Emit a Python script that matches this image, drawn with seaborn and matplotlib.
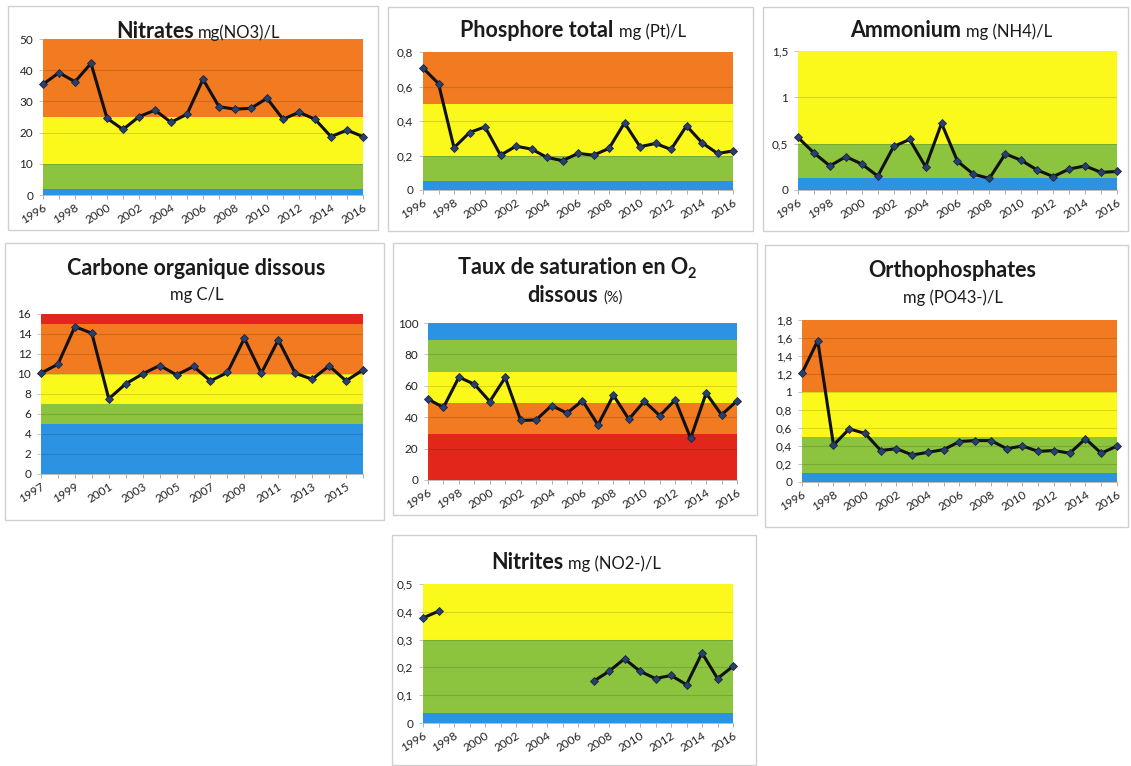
import numpy as np
import pandas as pd
import matplotlib
matplotlib.use("Agg")
import matplotlib.pyplot as plt
import seaborn as sns
from matplotlib.patches import Rectangle
from matplotlib.ticker import FixedLocator

sns.set_theme(style="white")
plt.rcParams["font.family"] = ["Lato", "DejaVu Sans"]

# ---------------- data ----------------
years = list(range(1996, 2017))
years_cod = list(range(1997, 2017))
nan = np.nan

nitrates = [35.5, 39.2, 36.3, 42.2, 24.6, 21.0, 25.1, 27.2, 23.3, 25.9, 37.1,
            28.3, 27.5, 27.8, 31.0, 24.3, 26.5, 24.3, 18.7, 20.8, 18.7]
phosphore = [0.707, 0.617, 0.245, 0.333, 0.366, 0.202, 0.254, 0.237, 0.189, 0.170, 0.212,
             0.202, 0.241, 0.389, 0.251, 0.270, 0.235, 0.372, 0.274, 0.212, 0.226]
ammonium = [0.567, 0.40, 0.26, 0.36, 0.28, 0.15, 0.47, 0.545, 0.25, 0.72, 0.31,
            0.17, 0.125, 0.39, 0.32, 0.215, 0.145, 0.226, 0.26, 0.19, 0.20]
cod = [10.08, 10.98, 14.74, 14.07, 7.52, 9.02, 10.01, 10.85, 9.91, 10.75,
       9.31, 10.15, 13.57, 10.08, 13.41, 10.08, 9.48, 10.81, 9.31, 10.41]
o2 = [51.5, 46.2, 65.5, 61.0, 50.0, 65.3, 37.9, 38.3, 47.4, 42.6, 50.6,
      35.1, 54.0, 38.7, 50.2, 41.0, 51.0, 26.6, 55.3, 41.5, 50.4]
ortho = [1.21, 1.57, 0.41, 0.59, 0.54, 0.35, 0.37, 0.30, 0.33, 0.36, 0.45,
         0.46, 0.46, 0.37, 0.40, 0.34, 0.35, 0.32, 0.48, 0.32, 0.40]
nitrites = [0.378, 0.402, nan, nan, nan, nan, nan, nan, nan, nan, nan,
            0.15, 0.186, 0.231, 0.186, 0.16, 0.171, 0.138, 0.252, 0.16, 0.204]

# class thresholds (band edges) and colours
BLUE, GREEN, YELLOW, ORANGE, RED = "#2C93E3", "#8CC43F", "#FBF81C", "#F27A20", "#E2261C"
nitrates_bands = [0, 2, 10, 25, 50]
nitrates_cols = [BLUE, GREEN, YELLOW, ORANGE]
phosphore_bands = [0, 0.05, 0.2, 0.5, 0.8]
phosphore_cols = [BLUE, GREEN, YELLOW, ORANGE]
ammonium_bands = [0, 0.13, 0.5, 1.5]
ammonium_cols = [BLUE, GREEN, YELLOW]
cod_bands = [0, 5, 7, 10, 15, 16]
cod_cols = [BLUE, GREEN, YELLOW, ORANGE, RED]
o2_bands = [0, 29, 49, 69, 89, 100]
o2_cols = [RED, ORANGE, YELLOW, GREEN, BLUE]
ortho_bands = [0, 0.1, 0.5, 1.0, 1.8]
ortho_cols = [BLUE, GREEN, YELLOW, ORANGE]
nitrites_bands = [0, 0.035, 0.3, 0.5]
nitrites_cols = [BLUE, GREEN, YELLOW]

nitrates_yticks = [0, 10, 20, 30, 40, 50]
phosphore_yticks = [0, 0.2, 0.4, 0.6, 0.8]
ammonium_yticks = [0, 0.5, 1, 1.5]
cod_yticks = [0, 2, 4, 6, 8, 10, 12, 14, 16]
o2_yticks = [0, 20, 40, 60, 80, 100]
ortho_yticks = [0, 0.2, 0.4, 0.6, 0.8, 1, 1.2, 1.4, 1.6, 1.8]
nitrites_yticks = [0, 0.1, 0.2, 0.3, 0.4, 0.5]

xticks_even = list(range(1996, 2017, 2))
xticks_odd = list(range(1997, 2016, 2))

# ---------------- layout ----------------
W, H = 1131, 766
fig = plt.figure(figsize=(W / 100, H / 100), dpi=100)
fig.patch.set_facecolor("white")
renderer = fig.canvas.get_renderer()

TITLE_BOLD = 15.5
TITLE_SUB = 12
TICK_SIZE = 8.5


def px_axes(l, t, r, b):
    return fig.add_axes([l / W, 1 - b / H, (r - l) / W, (b - t) / H])


def frame(l, t, r, b):
    fig.patches.append(Rectangle((l / W, 1 - b / H), (r - l) / W, (b - t) / H,
                                 transform=fig.transFigure, fill=False,
                                 edgecolor="#D0D0D0", lw=1.0, zorder=0))


def title_line(cx, ybase, parts, gap=5):
    objs = []
    total = 0
    for i, (txt, size, weight, dy) in enumerate(parts):
        t = fig.text(0, 1 - (ybase + dy) / H, txt, fontsize=size, fontweight=weight,
                     color="#1b1b1b", va="baseline", ha="left")
        w = t.get_window_extent(renderer).width
        g = 0 if (i == len(parts) - 1) else (0 if parts[i + 1][3] != 0 else gap)
        objs.append((t, w, g))
        total += w + g
    x = cx - total / 2
    for t, w, g in objs:
        t.set_x(x / W)
        x += w + g


def fmt(v):
    s = f"{v:g}"
    return s.replace(".", ",")


def panel(ax_px, xs, ys, bands, cols, yticks, xticks):
    ax = px_axes(*ax_px)
    for lo, hi, c in zip(bands[:-1], bands[1:], cols):
        ax.axhspan(lo, hi, color=c, lw=0, zorder=0)
    for yt in yticks[1:-1]:
        ax.axhline(yt, color="black", alpha=0.13, lw=0.8, zorder=1)
    df = pd.DataFrame({"year": xs, "value": ys})
    df["seg"] = df["value"].isna().cumsum()
    df = df.dropna()
    sns.lineplot(data=df, x="year", y="value", units="seg", estimator=None,
                 color="#111111", lw=2.2, marker="D", markersize=4.5,
                 markerfacecolor="#27406E", markeredgecolor="#1a2440",
                 markeredgewidth=0.6, ax=ax, zorder=3, clip_on=False, legend=False)
    ax.set_xlim(xs[0], xs[-1])
    ax.set_ylim(bands[0], bands[-1])
    ax.set_xlabel("")
    ax.set_ylabel("")
    ax.yaxis.set_major_locator(FixedLocator(yticks))
    ax.set_yticklabels([fmt(v) for v in yticks])
    ax.set_xticks(xticks)
    ax.set_xticklabels([str(v) for v in xticks], rotation=32, ha="right",
                       rotation_mode="anchor")
    ax.set_xticks(xs, minor=True)
    ax.tick_params(axis="y", length=3, width=0.6, color="#B8B8B8", left=True,
                   pad=4, labelsize=TICK_SIZE, labelcolor="#222222")
    ax.tick_params(axis="x", which="both", length=3, width=0.6, color="#A0A0A0",
                   direction="out", pad=2, labelsize=TICK_SIZE, labelcolor="#222222", bottom=True)
    for s in ["top", "right", "left"]:
        ax.spines[s].set_visible(False)
    ax.spines["bottom"].set_color("#B0B0B0")
    ax.spines["bottom"].set_linewidth(0.6)
    ax.set_facecolor("white")
    return ax


# frames
frame(8, 6, 378, 230)
frame(388, 7, 753, 231)
frame(763, 7, 1128, 231)
frame(5, 243, 384, 520)
frame(393, 243, 757, 515)
frame(765, 245, 1128, 527)
frame(392, 535, 756, 765)

panel((43, 39, 363, 195), years, nitrates, nitrates_bands, nitrates_cols, nitrates_yticks, xticks_even)
panel((423, 52, 733, 190), years, phosphore, phosphore_bands, phosphore_cols, phosphore_yticks, xticks_even)
panel((798, 51, 1117, 190), years, ammonium, ammonium_bands, ammonium_cols, ammonium_yticks, xticks_even)
panel((41, 314, 363, 474), years_cod, cod, cod_bands, cod_cols, cod_yticks, xticks_odd)
panel((428, 323, 737, 480), years, o2, o2_bands, o2_cols, o2_yticks, xticks_even)
panel((802, 320, 1117, 482), years, ortho, ortho_bands, ortho_cols, ortho_yticks, xticks_even)
panel((423, 584, 733, 723), years, nitrites, nitrites_bands, nitrites_cols, nitrites_yticks, xticks_even)

# titles
title_line(198, 38, [("Nitrates", TITLE_BOLD, "bold", 0), ("mg(NO3)/L", TITLE_SUB, "normal", 0)], gap=4)
title_line(573, 37, [("Phosphore total", TITLE_BOLD, "bold", 0), ("mg (Pt)/L", TITLE_SUB, "normal", 0)])
title_line(951, 37, [("Ammonium", TITLE_BOLD, "bold", 0), ("mg (NH4)/L", TITLE_SUB, "normal", 0)])
title_line(196, 275, [("Carbone organique dissous", TITLE_BOLD, "bold", 0)])
title_line(197, 300, [("mg C/L", TITLE_SUB, "normal", 0)])
title_line(577, 274, [("Taux de saturation en O", TITLE_BOLD, "bold", 0), ("2", 10.5, "bold", 4)])
title_line(575, 302, [("dissous", TITLE_BOLD, "bold", 0), ("(%)", 10.5, "normal", 0)])
title_line(952, 277, [("Orthophosphates", TITLE_BOLD, "bold", 0)])
title_line(953, 303, [("mg (PO43-)/L", TITLE_SUB, "normal", 0)])
title_line(576, 569, [("Nitrites", TITLE_BOLD, "bold", 0), ("mg (NO2-)/L", TITLE_SUB, "normal", 0)])

fig.savefig("out.png", dpi=100, facecolor="white")
